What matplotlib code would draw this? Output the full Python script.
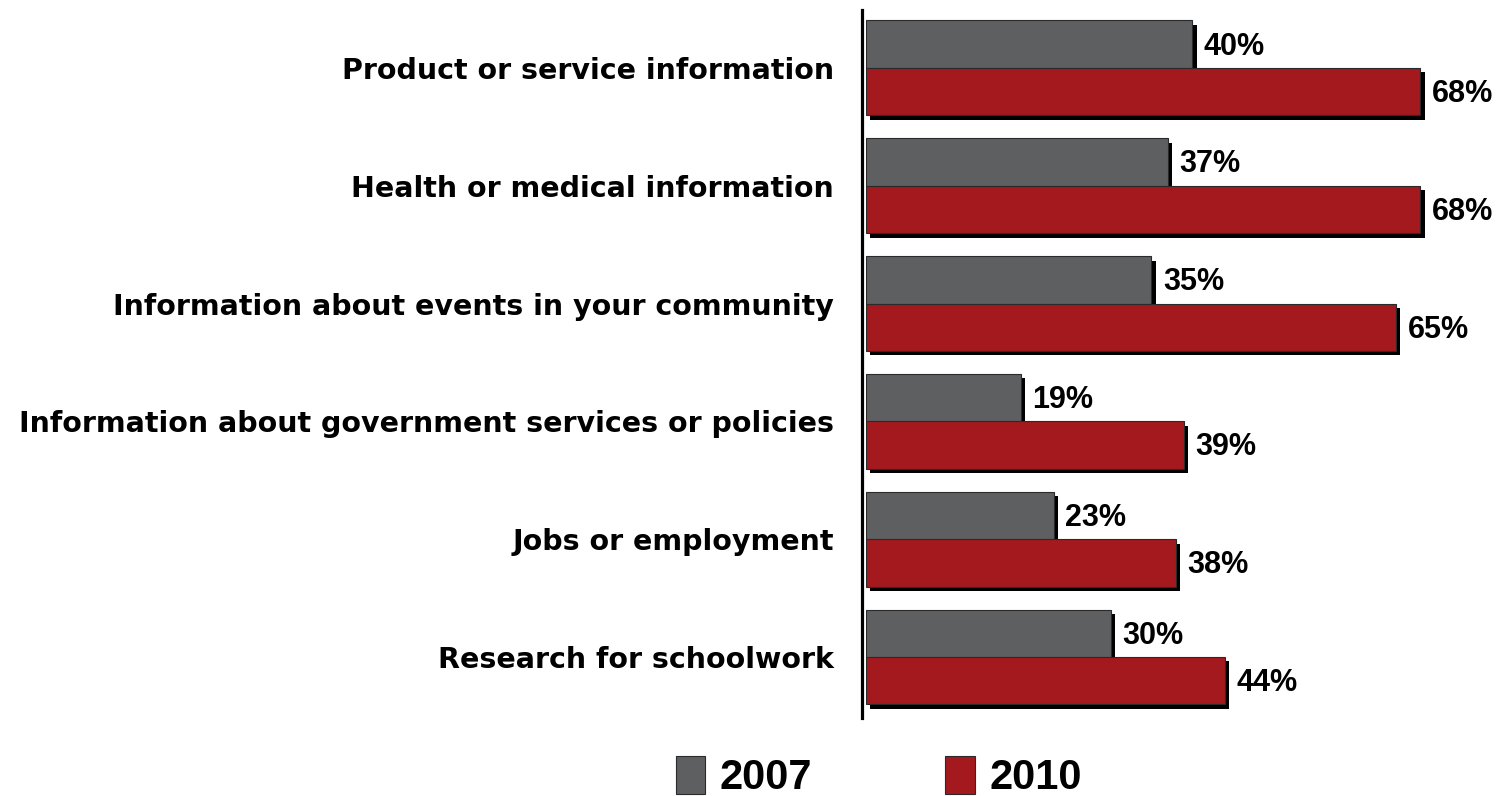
import numpy as np
import matplotlib
matplotlib.use("Agg")
import matplotlib.pyplot as plt
import matplotlib.patheffects as pe

categories = ["Product or service information",
              "Health or medical information",
              "Information about events in your community",
              "Information about government services or policies",
              "Jobs or employment",
              "Research for schoolwork"]
vals_2007 = [40, 37, 35, 19, 23, 30]
vals_2010 = [68, 68, 65, 39, 38, 44]
series_names = ["2007", "2010"]

gray = "#5e5f61"
red = "#a3191e"

plt.rcParams['font.family'] = ["Liberation Sans", "DejaVu Sans"]

fig = plt.figure(figsize=(15.02, 7.96), dpi=100)
ax = fig.add_axes([866/1502, 1-718/796, 1-866/1502, 708/796])

# spine position first (it resets the ticks)
for s in ['top', 'right', 'bottom']:
    ax.spines[s].set_visible(False)
ax.spines['left'].set_linewidth(2.3)
ax.spines['left'].set_position(('outward', 3))

ind = np.arange(len(categories))
h = 0.403
shadow = [pe.SimplePatchShadow(offset=(3.2, -3.2), shadow_rgbFace='black', alpha=1), pe.Normal()]

b1 = ax.barh(ind - h/2, vals_2007, h, color=gray, edgecolor="#2a2a2a", linewidth=0.8)
b2 = ax.barh(ind + h/2, vals_2010, h, color=red, edgecolor="#2a2a2a", linewidth=0.8)
for b in list(b1) + list(b2):
    b.set_path_effects(shadow)

for i in ind:
    ax.text(vals_2007[i] + 1.4, i - h/2 + 0.02, f"{vals_2007[i]}%", va='center', ha='left',
            fontsize=22, fontweight='bold')
    ax.text(vals_2010[i] + 1.4, i + h/2 + 0.02, f"{vals_2010[i]}%", va='center', ha='left',
            fontsize=22, fontweight='bold')

ax.set_xlim(0, 78)
ax.set_ylim(5.518, -0.492)
ax.set_xticks([])
ax.set_yticks(ind)
ax.set_yticklabels(categories, fontsize=20.5, fontweight='bold', family='DejaVu Sans')
ax.tick_params(axis='y', length=0, pad=20)

leg = fig.legend((b1, b2), series_names, loc='lower center', bbox_to_anchor=(0.585, -0.05),
                 ncol=2, frameon=False, handlelength=0.7, handleheight=1.0, handletextpad=0.35,
                 columnspacing=3.2, prop={'weight': 'bold', 'size': 30})
for p in leg.get_patches():
    p.set_path_effects([])

fig.savefig("out.png", dpi=100)
